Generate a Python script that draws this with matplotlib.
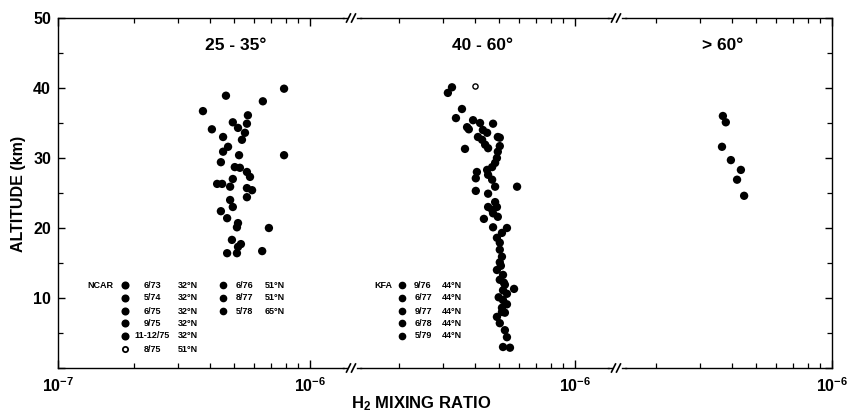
import numpy as np
import matplotlib
matplotlib.use("Agg")
import matplotlib.pyplot as plt
from matplotlib.ticker import FixedLocator, NullFormatter, FixedFormatter
from matplotlib.lines import Line2D

plt.rcParams['font.family'] = ['Liberation Sans', 'DejaVu Sans']
plt.rcParams['font.weight'] = 'bold'
plt.rcParams['mathtext.fontset'] = 'custom'
plt.rcParams['mathtext.rm'] = 'Liberation Sans:bold'
plt.rcParams['mathtext.bf'] = 'Liberation Sans:bold'
plt.rcParams['mathtext.default'] = 'bf'

# H2 mixing ratio (units of 1e-7) versus altitude (km), per latitude band
lat_25_35_h2 = [4.64, 6.50, 7.89, 3.76, 5.67, 4.94, 5.62, 4.08, 5.18, 5.52,
                4.52, 5.37, 4.73, 4.52, 5.23, 7.89, 4.43, 5.03, 5.27, 5.62,
                5.78, 4.28, 4.48, 4.94, 4.82, 5.62, 5.89, 5.62, 4.82, 4.94,
                4.43, 4.69, 5.18, 5.13, 6.87, 4.90, 5.32, 5.18, 4.69, 5.13,
                6.46]
lat_25_35_alt = [38.9, 38.1, 39.9, 36.7, 36.1, 35.1, 34.9, 34.1, 34.3, 33.6,
                 33.0, 32.6, 31.6, 30.9, 30.4, 30.4, 29.4, 28.7, 28.6, 28.0,
                 27.3, 26.3, 26.3, 27.0, 25.9, 25.7, 25.4, 24.4, 24.0, 23.0,
                 22.4, 21.4, 20.7, 20.1, 20.0, 18.3, 17.7, 17.3, 16.4, 16.4,
                 16.7]

lat_40_60_h2 = [3.25, 3.13, 3.56, 3.37, 3.94, 4.20, 4.73, 3.73, 3.79, 4.31,
                4.48, 4.12, 4.28, 4.94, 5.03, 4.40, 4.52, 5.03, 4.94, 3.66,
                4.90, 4.82, 4.69, 4.48, 4.52, 4.08, 4.04, 4.69, 4.82, 5.89,
                4.04, 4.52, 4.82, 4.90, 4.69, 4.52, 4.73, 4.94, 4.35, 4.73,
                5.37, 5.13, 4.90, 5.03, 5.03, 5.13, 5.03, 4.90, 5.18, 5.03,
                5.27, 5.18, 5.73, 5.37, 5.18, 5.37, 5.13, 5.27, 4.90, 5.03,
                5.27, 5.37, 5.18, 5.52, 5.08, 5.22, 4.98, 5.13]
lat_40_60_alt = [40.1, 39.3, 37.0, 35.7, 35.4, 35.0, 34.9, 34.4, 34.1, 34.0,
                 33.6, 33.0, 32.6, 33.0, 32.9, 31.9, 31.4, 31.7, 30.9, 31.3,
                 30.0, 29.3, 28.7, 28.3, 27.6, 28.0, 27.1, 26.9, 25.9, 25.9,
                 25.3, 24.9, 23.7, 23.0, 22.6, 23.0, 22.1, 21.6, 21.3, 20.1,
                 20.0, 19.3, 18.6, 17.9, 16.9, 15.9, 15.1, 14.0, 13.3, 12.6,
                 11.9, 11.1, 11.3, 10.6, 9.7, 9.1, 8.6, 7.9, 7.3, 6.4,
                 5.4, 4.4, 3.0, 2.9, 14.6, 12.2, 10.1, 8.0]
lat_40_60_open_h2 = [4.01]
lat_40_60_open_alt = [40.3]

lat_gt60_h2 = [3.69, 3.79, 3.66, 3.97, 4.35, 4.20, 4.48]
lat_gt60_alt = [36.0, 35.1, 31.6, 29.7, 28.3, 26.9, 24.6]

panel_titles = ["25 - 35°", "40 - 60°", "> 60°"]

ncar_dates = ["6/73", "5/74", "6/75", "9/75", "11-12/75", "8/75"]
ncar_lats = ["32°N", "32°N", "32°N", "32°N", "32°N", "51°N"]
ncar2_dates = ["6/76", "8/77", "5/78"]
ncar2_lats = ["51°N", "51°N", "65°N"]
kfa_dates = ["9/76", "6/77", "9/77", "6/78", "5/79"]
kfa_lats = ["44°N", "44°N", "44°N", "44°N", "44°N"]

W, H = 847, 416
fig = plt.figure(figsize=(W / 100, H / 100), dpi=100)


def fx(px):
    return px / W


def fy(py):
    return 1 - py / H


bot, top = 368, 18
dec = 252.0  # pixels per decade
panels = [
    (58, 352, -7.0, 58),    # left px, right px, log value at ref px, ref px
    (352, 617, -6.0, 575),
    (617, 832, -6.0, 832),
]
axes = []
for (l, r, lv, rp) in panels:
    ax = fig.add_axes([fx(l), fy(bot), (r - l) / W, (bot - top) / H])
    ax.set_xscale('log')
    lo = 10 ** (lv + (l - rp) / dec)
    hi = 10 ** (lv + (r - rp) / dec)
    ax.set_xlim(lo, hi)
    ax.set_ylim(0, 50)
    axes.append(ax)

ms = 36
ax1, ax2, ax3 = axes
ax1.scatter(np.array(lat_25_35_h2) * 1e-7, lat_25_35_alt, s=ms, c='black',
            edgecolors='none', zorder=3)
ax2.scatter(np.array(lat_40_60_h2) * 1e-7, lat_40_60_alt, s=ms, c='black',
            edgecolors='none', zorder=3)
ax2.scatter(np.array(lat_40_60_open_h2) * 1e-7, lat_40_60_open_alt, s=14,
            facecolors='white', edgecolors='black', linewidths=1.0, zorder=3)
ax3.scatter(np.array(lat_gt60_h2) * 1e-7, lat_gt60_alt, s=ms, c='black',
            edgecolors='none', zorder=3)

for ax in axes:
    for sp in ax.spines.values():
        sp.set_linewidth(1.0)
    lo, hi = ax.get_xlim()
    minors = []
    for e in range(-8, -4):
        for m in range(2, 10):
            v = m * 10.0 ** e
            if lo < v < hi:
                minors.append(v)
    ax.xaxis.set_minor_locator(FixedLocator(minors))
    ax.xaxis.set_minor_formatter(NullFormatter())
    ax.tick_params(axis='x', which='both', direction='in', top=True,
                   bottom=True, labelsize=11.5, pad=6)
    ax.tick_params(axis='x', which='major', length=6, width=1.0)
    ax.tick_params(axis='x', which='minor', length=3.5, width=0.9)

ax1.xaxis.set_major_locator(FixedLocator([1e-7, 1e-6]))
ax1.xaxis.set_major_formatter(FixedFormatter(['10$^{-7}$', '10$^{-6}$']))
ax2.xaxis.set_major_locator(FixedLocator([1e-6]))
ax2.xaxis.set_major_formatter(FixedFormatter(['10$^{-6}$']))
ax3.xaxis.set_major_locator(FixedLocator([1e-6]))
ax3.xaxis.set_major_formatter(FixedFormatter(['10$^{-6}$']))

ax1.spines['right'].set_visible(False)
ax2.spines['left'].set_visible(False)
ax2.spines['right'].set_visible(False)
ax3.spines['left'].set_visible(False)

ax1.set_yticks([0, 10, 20, 30, 40, 50])
ax1.set_yticklabels(['', '10', '20', '30', '40', '50'])
ax1.set_yticks([5, 15, 25, 35, 45], minor=True)
ax1.tick_params(axis='y', which='both', direction='in', left=True,
                right=False, labelsize=11.5, pad=5)
ax1.tick_params(axis='y', which='major', length=5, width=1.0)
ax1.tick_params(axis='y', which='minor', length=3.5, width=0.9)
ax2.tick_params(axis='y', which='both', left=False, right=False,
                labelleft=False)
ax3.set_yticks([0, 10, 20, 30, 40, 50])
ax3.set_yticks([5, 15, 25, 35, 45], minor=True)
ax3.tick_params(axis='y', which='both', direction='in', left=False,
                right=True, labelleft=False, labelright=False)
ax3.tick_params(axis='y', which='major', length=5, width=1.0)
ax3.tick_params(axis='y', which='minor', length=3.5, width=0.9)

# axis break marks on top and bottom edges
for bx in (352, 617):
    for by in (bot, top):
        fig.add_artist(Line2D([fx(bx - 6), fx(bx + 6)], [fy(by), fy(by)],
                              color='white', lw=2.5, zorder=5))
        fig.add_artist(Line2D([fx(bx - 9), fx(bx - 5)], [fy(by), fy(by)],
                              color='black', lw=1.0, zorder=6))
        fig.add_artist(Line2D([fx(bx + 5), fx(bx + 9)], [fy(by), fy(by)],
                              color='black', lw=1.0, zorder=6))
        for dx in (-3.5, 1.5):
            fig.add_artist(Line2D([fx(bx + dx - 2), fx(bx + dx + 2)],
                                  [fy(by + 4), fy(by - 4)],
                                  color='black', lw=1.2, zorder=6))

# panel titles
for ax, t, cx in zip(axes, panel_titles, (236, 482, 723)):
    fig.text(fx(cx), fy(46), t, ha='center', va='center', fontsize=12.5,
             fontweight='bold')

fig.text(fx(18), fy(194), 'ALTITUDE (km)', rotation=90, ha='center',
         va='center', fontsize=11.5, fontweight='bold')
fig.text(fx(421), fy(404), 'H$_2$ MIXING RATIO', ha='center', va='center',
         fontsize=12, fontweight='bold')

# flight key
fs = 6.5
rows = [285, 298, 311, 323, 336, 349]
fig.text(fx(100), fy(rows[0]), 'NCAR', ha='center', va='center', fontsize=fs,
         fontweight='bold')
for i, (d, la) in enumerate(zip(ncar_dates, ncar_lats)):
    open_mk = i == len(ncar_dates) - 1
    fig.add_artist(Line2D([fx(125)], [fy(rows[i])], marker='o',
                          markersize=4.5 if not open_mk else 3.8,
                          markerfacecolor='white' if open_mk else 'black',
                          markeredgecolor='black', markeredgewidth=1.3,
                          linestyle='none'))
    fig.text(fx(152), fy(rows[i]), d, ha='center', va='center', fontsize=fs,
             fontweight='bold')
    fig.text(fx(188), fy(rows[i]), la, ha='center', va='center', fontsize=fs,
             fontweight='bold')
for i, (d, la) in enumerate(zip(ncar2_dates, ncar2_lats)):
    fig.add_artist(Line2D([fx(223)], [fy(rows[i])], marker='o',
                          markersize=4.5, markerfacecolor='black',
                          markeredgecolor='black', linestyle='none'))
    fig.text(fx(244), fy(rows[i]), d, ha='center', va='center', fontsize=fs,
             fontweight='bold')
    fig.text(fx(275), fy(rows[i]), la, ha='center', va='center', fontsize=fs,
             fontweight='bold')

fig.text(fx(383), fy(rows[0]), 'KFA', ha='center', va='center', fontsize=fs,
         fontweight='bold')
for i, (d, la) in enumerate(zip(kfa_dates, kfa_lats)):
    fig.add_artist(Line2D([fx(402)], [fy(rows[i])], marker='o',
                          markersize=4.5, markerfacecolor='black',
                          markeredgecolor='black', linestyle='none'))
    fig.text(fx(423), fy(rows[i]), d, ha='center', va='center', fontsize=fs,
             fontweight='bold')
    fig.text(fx(452), fy(rows[i]), la, ha='center', va='center', fontsize=fs,
             fontweight='bold')

fig.savefig('out.png', dpi=100)
